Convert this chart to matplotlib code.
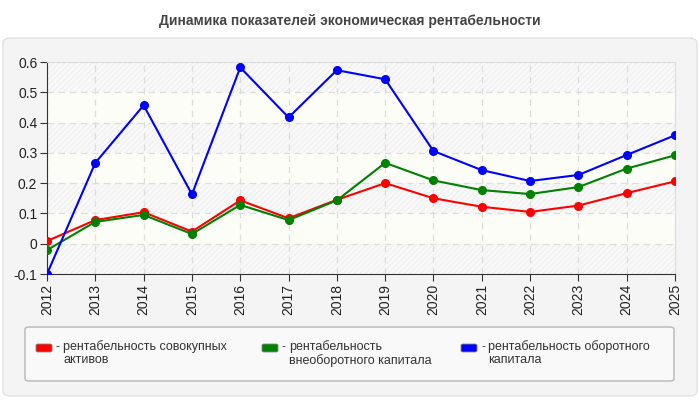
import matplotlib
matplotlib.use("Agg")
import matplotlib.pyplot as plt
import matplotlib.patches as patches

plt.rcParams['font.family'] = ['Liberation Sans', 'DejaVu Sans']
plt.rcParams['hatch.linewidth'] = 0.6

# Данные
years = [2012, 2013, 2014, 2015, 2016, 2017, 2018, 2019, 2020, 2021, 2022, 2023, 2024, 2025]
aktivy = [0.009, 0.078, 0.104, 0.040, 0.143, 0.084, 0.145, 0.200, 0.150, 0.122, 0.105, 0.126, 0.167, 0.206]
vneoborot = [-0.021, 0.072, 0.095, 0.032, 0.128, 0.078, 0.143, 0.267, 0.209, 0.177, 0.164, 0.187, 0.248, 0.292]
oborot = [-0.100, 0.267, 0.457, 0.163, 0.582, 0.417, 0.573, 0.543, 0.306, 0.243, 0.207, 0.227, 0.293, 0.358]

series = [
    (aktivy, 'red', 'рентабельность совокупных\nактивов'),
    (vneoborot, 'green', 'рентабельность\nвнеоборотного капитала'),
    (oborot, 'blue', 'рентабельность оборотного\nкапитала'),
]
yticks = [-0.1, 0, 0.1, 0.2, 0.3, 0.4, 0.5, 0.6]

fig = plt.figure(figsize=(7, 4), dpi=100, facecolor='white')

# Фон-панель
panel = patches.FancyBboxPatch((3 / 700, 4 / 400), 694 / 700, 358 / 400,
                               boxstyle='round,pad=0,rounding_size=0.012',
                               transform=fig.transFigure, facecolor='#f4f4f4',
                               edgecolor='#e2e2e2', linewidth=1, zorder=-5)
fig.patches.append(panel)

fig.text(0.5, 0.948, 'Динамика показателей экономическая рентабельности',
         ha='center', va='center', fontsize=10, fontweight='bold', color='#444444')

ax = fig.add_axes([47 / 700, 126 / 400, 628 / 700, 212 / 400])
ax.set_facecolor('#fdfdf8')

# Полосы фона
for i in range(len(yticks) - 1):
    if (len(yticks) - 2 - i) % 2 == 0:
        ax.axhspan(yticks[i], yticks[i + 1], facecolor='#f9f9f9', edgecolor='#ececec',
                   hatch='//////', linewidth=0, zorder=0)

for vals, col, lab in series:
    ax.plot(years, vals, color=col, linewidth=1.5, marker='o', markersize=5.5, zorder=3)

ax.set_xlim(years[0], years[-1])
ax.set_ylim(-0.1, 0.6)
ax.set_xticks(years)
ax.set_xticklabels([str(y) for y in years], rotation=90, fontsize=10, color='#222222')
ax.set_yticks(yticks)
ax.set_yticklabels(['-0.1', '0', '0.1', '0.2', '0.3', '0.4', '0.5', '0.6'], fontsize=10, color='#222222')
ax.grid(True, linestyle=(0, (5, 4)), color='#dddddd', linewidth=0.9)
ax.set_axisbelow('line')
ax.tick_params(length=5, color='#333333', pad=2)
for s in ['top', 'right']:
    ax.spines[s].set_color('#dddddd')
for s in ['left', 'bottom']:
    ax.spines[s].set_color('#333333')

# Легенда
leg = patches.FancyBboxPatch((25 / 700, 19 / 400), 649 / 700, 54 / 400,
                             boxstyle='round,pad=0,rounding_size=0.006',
                             transform=fig.transFigure, facecolor='#f9f9f9',
                             edgecolor='#b5b5b5', linewidth=1, zorder=1)
fig.patches.append(leg)

leg_x = [36, 262, 461]
for (vals, col, lab), lx in zip(series, leg_x):
    sw = patches.FancyBboxPatch((lx / 700, 48 / 400), 16 / 700, 8 / 400,
                                boxstyle='round,pad=0,rounding_size=0.003',
                                transform=fig.transFigure, facecolor=col,
                                edgecolor='#888888', linewidth=0.6, zorder=2)
    fig.patches.append(sw)
    fig.text((lx + 20) / 700, 53 / 400, '-', fontsize=9, va='center', color='#333333')
    fig.text((lx + 27) / 700, 60 / 400, lab, fontsize=9, va='top', color='#333333',
             linespacing=1.1)

fig.savefig('out.png', dpi=100, facecolor=fig.get_facecolor())
